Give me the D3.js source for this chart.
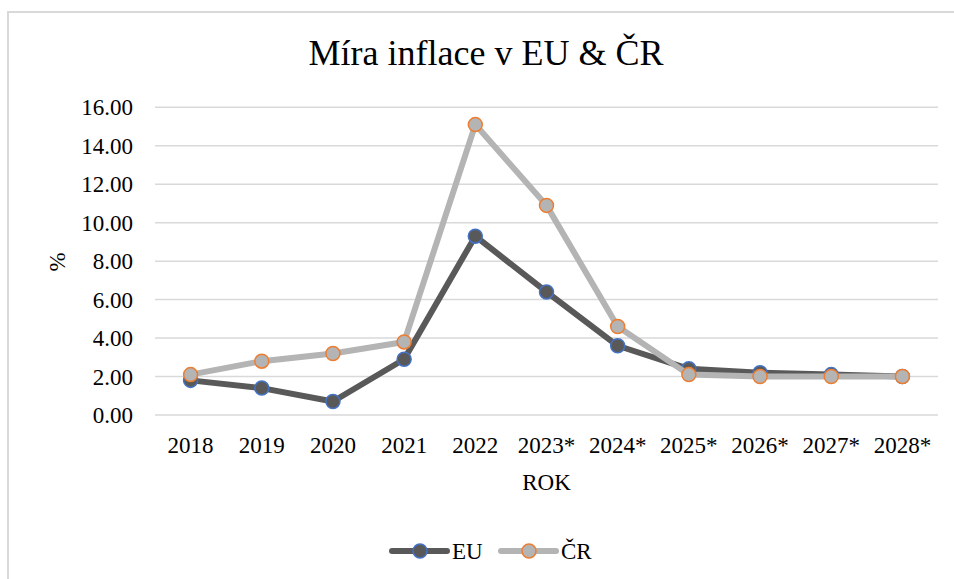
<!DOCTYPE html>
<html>
<head>
<meta charset="utf-8">
<script src="https://cdn.jsdelivr.net/npm/d3@7"></script>
<style>
  body { margin: 0; background: #fff; }
  svg text { font-family: "Liberation Serif", "Times New Roman", serif; fill: #000; }
</style>
</head>
<body>
<div id="chart"></div>
<script>
var years = ['2018', '2019', '2020', '2021', '2022', '2023*', '2024*', '2025*', '2026*', '2027*', '2028*'];
var euValues = [1.8, 1.4, 0.7, 2.9, 9.3, 6.4, 3.6, 2.4, 2.2, 2.1, 2.0];
var crValues = [2.1, 2.8, 3.2, 3.8, 15.1, 10.9, 4.6, 2.1, 2.0, 2.0, 2.0];
var yTicks = [0, 2, 4, 6, 8, 10, 12, 14, 16];
var seriesNames = ['EU', 'ČR'];

var width = 954,
    height = 579;

var svg = d3.select('#chart').append('svg')
  .attr('width', width)
  .attr('height', height);

// chart frame
svg.append('rect')
  .attr('x', 8).attr('y', 12)
  .attr('width', 980).attr('height', 600)
  .attr('fill', 'none')
  .attr('stroke', '#d9d9d9')
  .attr('stroke-width', 2);

var plotLeft = 155, plotRight = 938, plotTop = 107.3, plotBottom = 415;

var x = d3.scaleBand().domain(years).range([plotLeft, plotRight]);
var y = d3.scaleLinear().domain([0, 16]).range([plotBottom, plotTop]);

svg.append('text')
  .attr('x', 486).attr('y', 65)
  .attr('text-anchor', 'middle')
  .style('font-size', '36px')
  .text('Míra inflace v EU & ČR');

// grid
svg.append('g').selectAll('line')
  .data(yTicks)
  .enter().append('line')
  .attr('x1', plotLeft).attr('x2', plotRight)
  .attr('y1', function(d) { return y(d); })
  .attr('y2', function(d) { return y(d); })
  .attr('stroke', '#d9d9d9')
  .attr('stroke-width', 1.5);

svg.append('g').selectAll('text')
  .data(yTicks)
  .enter().append('text')
  .attr('x', 133)
  .attr('y', function(d) { return y(d); })
  .attr('dy', '0.35em')
  .attr('text-anchor', 'end')
  .style('font-size', '23px')
  .text(function(d) { return d3.format('.2f')(d); });

svg.append('g').selectAll('text')
  .data(years)
  .enter().append('text')
  .attr('x', function(d) { return x(d) + x.bandwidth() / 2; })
  .attr('y', 453)
  .attr('text-anchor', 'middle')
  .style('font-size', '23px')
  .text(function(d) { return d; });

svg.append('text')
  .attr('x', (plotLeft + plotRight) / 2).attr('y', 490)
  .attr('text-anchor', 'middle')
  .style('font-size', '23px')
  .text('ROK');

svg.append('text')
  .attr('transform', 'translate(65,262) rotate(-90)')
  .attr('text-anchor', 'middle')
  .style('font-size', '23px')
  .text('%');

var styles = [
  { line: '#595959', fill: '#595959', stroke: '#4472c4' },
  { line: '#b4b4b4', fill: '#b4b4b4', stroke: '#ed7d31' }
];

var line = d3.line()
  .x(function(d, i) { return x(years[i]) + x.bandwidth() / 2; })
  .y(function(d) { return y(d); });

[euValues, crValues].forEach(function(vals, k) {
  var g = svg.append('g');
  g.append('path')
    .attr('d', line(vals))
    .attr('fill', 'none')
    .attr('stroke', styles[k].line)
    .attr('stroke-width', 6)
    .attr('stroke-linejoin', 'round');
  g.selectAll('circle')
    .data(vals)
    .enter().append('circle')
    .attr('cx', function(d, i) { return x(years[i]) + x.bandwidth() / 2; })
    .attr('cy', function(d) { return y(d); })
    .attr('r', 7)
    .attr('fill', styles[k].fill)
    .attr('stroke', styles[k].stroke)
    .attr('stroke-width', 1.5);
});

// legend
var legendX = [392, 501];
seriesNames.forEach(function(name, k) {
  var g = svg.append('g').attr('transform', 'translate(' + legendX[k] + ',551)');
  g.append('line')
    .attr('x1', 0).attr('x2', 55)
    .attr('stroke', styles[k].line)
    .attr('stroke-width', 6)
    .attr('stroke-linecap', 'round');
  g.append('circle')
    .attr('cx', 28).attr('r', 7)
    .attr('fill', styles[k].fill)
    .attr('stroke', styles[k].stroke)
    .attr('stroke-width', 1.5);
  g.append('text')
    .attr('x', 60).attr('dy', '0.35em')
    .style('font-size', '23px')
    .text(name);
});
</script>
</body>
</html>
